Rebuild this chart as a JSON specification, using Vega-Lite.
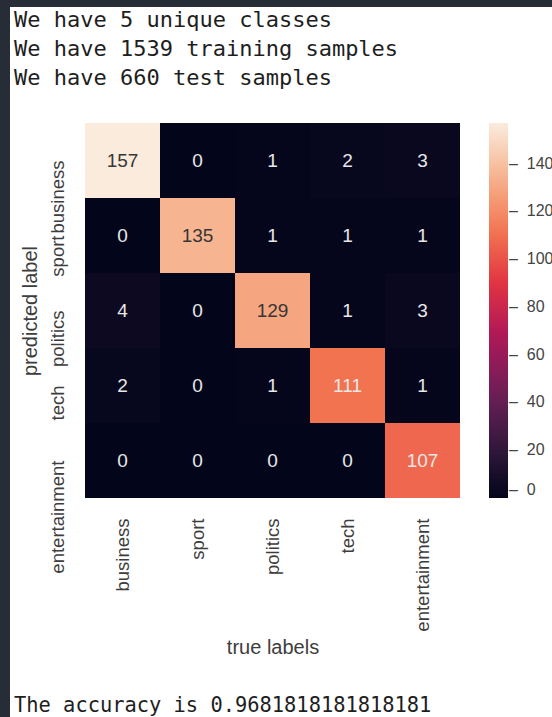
{
  "$schema": "https://vega.github.io/schema/vega-lite/v6.json",
  "width": 542,
  "height": 710,
  "autosize": {"type": "none"},
  "padding": {"top": 7, "left": 10, "right": 0, "bottom": 0},
  "background": "#262d36",
  "config": {
    "view": {"fill": "white", "stroke": null},
    "font": "Liberation Sans"
  },
  "datasets": {
    "confusion": [
      {"predicted": "business", "true": "business", "count": 157},
      {"predicted": "business", "true": "sport", "count": 0},
      {"predicted": "business", "true": "politics", "count": 1},
      {"predicted": "business", "true": "tech", "count": 2},
      {"predicted": "business", "true": "entertainment", "count": 3},
      {"predicted": "sport", "true": "business", "count": 0},
      {"predicted": "sport", "true": "sport", "count": 135},
      {"predicted": "sport", "true": "politics", "count": 1},
      {"predicted": "sport", "true": "tech", "count": 1},
      {"predicted": "sport", "true": "entertainment", "count": 1},
      {"predicted": "politics", "true": "business", "count": 4},
      {"predicted": "politics", "true": "sport", "count": 0},
      {"predicted": "politics", "true": "politics", "count": 129},
      {"predicted": "politics", "true": "tech", "count": 1},
      {"predicted": "politics", "true": "entertainment", "count": 3},
      {"predicted": "tech", "true": "business", "count": 2},
      {"predicted": "tech", "true": "sport", "count": 0},
      {"predicted": "tech", "true": "politics", "count": 1},
      {"predicted": "tech", "true": "tech", "count": 111},
      {"predicted": "tech", "true": "entertainment", "count": 1},
      {"predicted": "entertainment", "true": "business", "count": 0},
      {"predicted": "entertainment", "true": "sport", "count": 0},
      {"predicted": "entertainment", "true": "politics", "count": 0},
      {"predicted": "entertainment", "true": "tech", "count": 0},
      {"predicted": "entertainment", "true": "entertainment", "count": 107}
    ],
    "console_head": [
      {"line": 1, "text": "We have 5 unique classes"},
      {"line": 2, "text": "We have 1539 training samples"},
      {"line": 3, "text": "We have 660 test samples"}
    ],
    "console_tail": [
      {"text": "The accuracy is 0.9681818181818181"}
    ]
  },
  "layer": [
    {
      "data": {"name": "confusion"},
      "encoding": {
        "x": {
          "field": "true",
          "type": "nominal",
          "sort": ["business", "sport", "politics", "tech", "entertainment"],
          "scale": {"type": "band", "range": [75, 450], "paddingInner": 0, "paddingOuter": 0},
          "axis": {
            "orient": "bottom",
            "offset": -219,
            "ticks": false,
            "domain": false,
            "labelAngle": 270,
            "labelAlign": "right",
            "labelBaseline": "middle",
            "labelPadding": 20,
            "labelFontSize": 18.5,
            "labelColor": "#3d3d3d",
            "title": "true labels",
            "titleFontSize": 20,
            "titleFontWeight": "normal",
            "titleColor": "#3d3d3d",
            "titlePadding": 6
          }
        },
        "y": {
          "field": "predicted",
          "type": "nominal",
          "sort": ["business", "sport", "politics", "tech", "entertainment"],
          "scale": {"type": "band", "range": [116, 491], "paddingInner": 0, "paddingOuter": 0},
          "axis": {
            "orient": "left",
            "offset": -75,
            "ticks": false,
            "domain": false,
            "labelAngle": 270,
            "labelAlign": "right",
            "labelBaseline": "middle",
            "labelPadding": 28,
            "labelFontSize": 18.5,
            "labelColor": "#3d3d3d",
            "title": "predicted label",
            "titleFontSize": 20,
            "titleFontWeight": "normal",
            "titleColor": "#3d3d3d",
            "titlePadding": 8
          }
        }
      },
      "layer": [
        {
          "mark": {"type": "rect"},
          "encoding": {
            "color": {
              "field": "count",
              "type": "quantitative",
              "scale": {
                "domain": [0, 22.43, 44.86, 67.29, 89.71, 112.14, 134.57, 157],
                "range": ["#03051a", "#35193e", "#701f57", "#ad1759", "#e13342", "#f37651", "#f6b48f", "#faebdd"],
                "interpolate": "rgb"
              },
              "legend": {
                "orient": "none",
                "legendX": 479,
                "legendY": 116,
                "direction": "vertical",
                "title": null,
                "gradientLength": 375,
                "gradientThickness": 19,
                "gradientStrokeWidth": 0,
                "values": [0, 20, 40, 60, 80, 100, 120, 140],
                "labelExpr": "'\u2013\u00a0\u00a0' + datum.label",
                "labelFontSize": 16,
                "labelColor": "#444444",
                "labelOffset": 1,
                "labelBaseline": "middle",
                "labelOverlap": false
              }
            }
          }
        },
        {
          "mark": {"type": "text", "fontSize": 19, "font": "Liberation Sans"},
          "encoding": {
            "text": {"field": "count", "type": "quantitative"},
            "color": {
              "condition": {"test": "datum.count > 120", "value": "#363636"},
              "value": "#e8e8e8"
            }
          }
        }
      ]
    },
    {
      "data": {"name": "console_head"},
      "mark": {"type": "text", "align": "left", "baseline": "alphabetic", "font": "DejaVu Sans Mono", "fontSize": 22, "dx": 4, "color": "#1e1e1e"},
      "encoding": {
        "x": {"value": 0},
        "y": {"field": "line", "type": "ordinal", "scale": {"type": "point", "range": [20, 78], "padding": 0}, "axis": null},
        "text": {"field": "text"}
      }
    },
    {
      "data": {"name": "console_tail"},
      "mark": {"type": "text", "align": "left", "baseline": "alphabetic", "font": "DejaVu Sans Mono", "fontSize": 20.4, "dx": 4, "dy": -5, "color": "#1e1e1e"},
      "encoding": {
        "x": {"value": 0},
        "y": {"value": "height"},
        "text": {"field": "text"}
      }
    }
  ],
  "resolve": {"scale": {"x": "independent", "y": "independent"}}
}
